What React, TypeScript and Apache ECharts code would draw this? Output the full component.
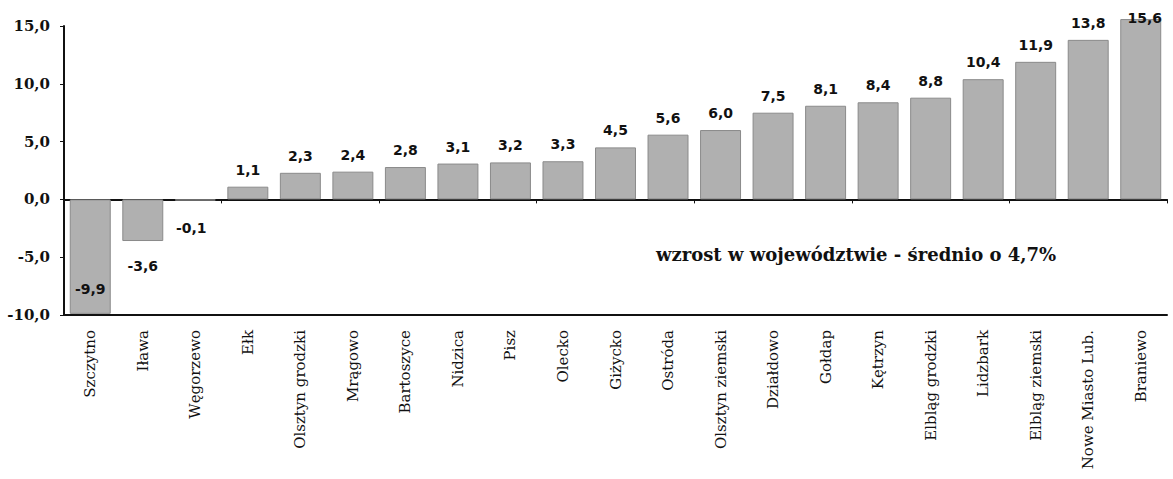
import React, { useEffect, useRef } from "react";
import * as echarts from "echarts";

const categories = [
  "Szczytno", "Iława", "Węgorzewo", "Ełk", "Olsztyn grodzki", "Mrągowo", "Bartoszyce",
  "Nidzica", "Pisz", "Olecko", "Giżycko", "Ostróda", "Olsztyn ziemski", "Działdowo",
  "Gołdap", "Kętrzyn", "Elbląg grodzki", "Lidzbark", "Elbląg ziemski", "Nowe Miasto Lub.", "Braniewo",
];
const values = [-9.9, -3.6, -0.1, 1.1, 2.3, 2.4, 2.8, 3.1, 3.2, 3.3, 4.5, 5.6, 6.0, 7.5, 8.1, 8.4, 8.8, 10.4, 11.9, 13.8, 15.6];
const yTicks = { min: -10, max: 15, interval: 5 };
const note = "wzrost w województwie - średnio o 4,7%";

const fmt = (v: number) => v.toFixed(1).replace(".", ",");

export default function App() {
  const ref = useRef<HTMLDivElement>(null);
  useEffect(() => {
    if (!ref.current) return;
    const chart = echarts.init(ref.current, undefined, { renderer: "svg" });
    const barColor = "#b0b0b0";
    const last = values.length - 1;
    const data = values.map((v, i) => {
      let label: any = { position: "top", distance: 10 };
      if (v < 0) {
        if (i === 0) label = { position: "insideBottom", distance: 18 };
        else if (i === 1) label = { position: "bottom", distance: 18 };
        else label = { position: "bottom", distance: 20, offset: [-4, 0] };
      } else if (i === last) {
        label = { position: "top", distance: -6, offset: [4, 0] };
      }
      return { value: v, label };
    });
    chart.setOption({
      animation: false,
      backgroundColor: "#ffffff",
      grid: { left: 64, right: 6, top: 26, bottom: 164, containLabel: false },
      xAxis: [
        {
          type: "category",
          data: categories,
          position: "bottom",
          axisLine: { onZero: false, lineStyle: { color: "#111", width: 2 } },
          axisTick: { show: false },
          axisLabel: {
            rotate: 90,
            interval: 0,
            margin: 15,
            color: "#111",
            fontFamily: "DejaVu Serif",
            fontSize: 15,
          },
        },
        {
          type: "category",
          data: categories,
          position: "top",
          axisLine: { onZero: true, lineStyle: { color: "#111", width: 2 } },
          axisTick: { show: true, inside: true, length: 4, lineStyle: { color: "#111" } },
          axisLabel: { show: false },
        },
      ],
      yAxis: {
        type: "value",
        min: yTicks.min,
        max: yTicks.max,
        interval: yTicks.interval,
        axisLine: { show: true, lineStyle: { color: "#111", width: 2 } },
        axisTick: { show: true, length: 4, lineStyle: { color: "#111" } },
        splitLine: { show: false },
        axisLabel: {
          formatter: (v: number) => fmt(v),
          color: "#111",
          fontFamily: "DejaVu Serif",
          fontWeight: "bold",
          fontSize: 15,
          margin: 14,
        },
      },
      series: [
        {
          type: "bar",
          data,
          xAxisIndex: 0,
          barCategoryGap: "22%",
          clip: false,
          itemStyle: { color: barColor, borderColor: "#8a8a8a", borderWidth: 1 },
          label: {
            show: true,
            formatter: (p: any) => fmt(p.value),
            color: "#111",
            fontFamily: "DejaVu Sans",
            fontWeight: "bold",
            fontSize: 14,
          },
        },
      ],
      graphic: [
        {
          type: "text",
          left: 656,
          top: 245,
          style: {
            text: note,
            fill: "#111",
            font: "bold 18px 'DejaVu Serif'",
          },
        },
      ],
    });
    return () => chart.dispose();
  }, []);
  return <div ref={ref} style={{ width: 1173, height: 479, position: "absolute", left: 0, top: 0 }} />;
}
